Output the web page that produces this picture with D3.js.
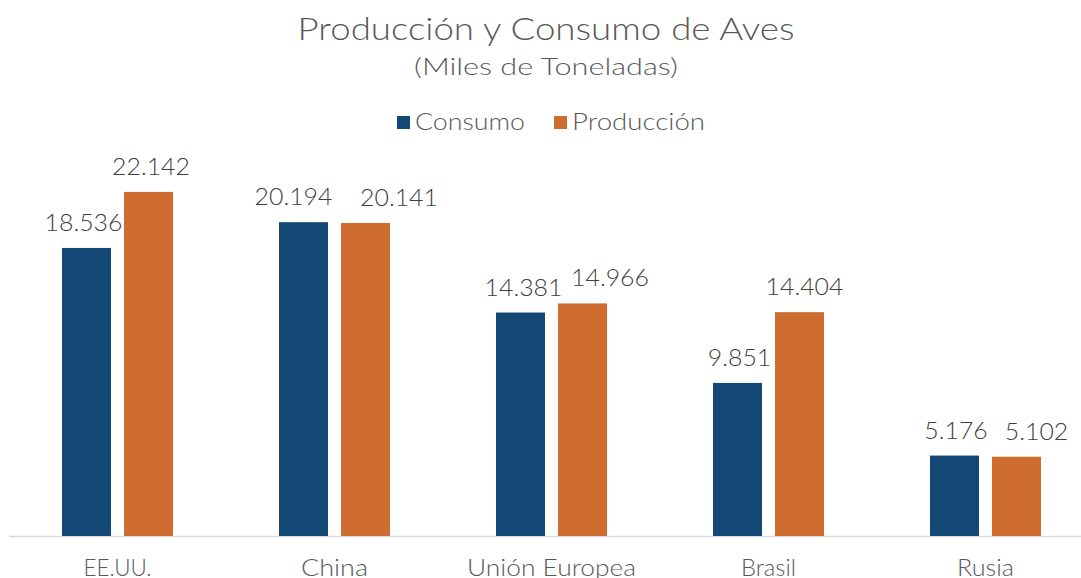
<!DOCTYPE html>
<html><head><meta charset="utf-8">
<script src="https://cdn.jsdelivr.net/npm/d3@7"></script>
<style>body{margin:0;background:#fff;}svg{display:block;font-family:"Lato","Open Sans",sans-serif;font-weight:300;}</style>
</head><body>
<svg id="chart" width="1081" height="578"></svg>
<script>
const categories = ["EE.UU.", "China", "Unión Europea", "Brasil", "Rusia"];
const seriesNames = ["Consumo", "Producción"];
const consumo = [18536, 20194, 14381, 9851, 5176];
const produccion = [22142, 20141, 14966, 14404, 5102];
const valueLabels = [["18.536","20.194","14.381","9.851","5.176"],["22.142","20.141","14.966","14.404","5.102"]];
const colors = ["#134874", "#CE6D2F"];

// layout constants (label nudges as placed in the original)
const labelShift = [[-3, -10, 3, 2, 1.5], [2.5, 33.5, 27.5, 5, 20]];
const catWidths = [68, 67, 169, 55, 57];

const svg = d3.select("#chart");
const W = 1081, H = 578;
const x0 = d3.scaleBand().domain(categories).range([9, 1094]).paddingInner(0).paddingOuter(0);
const y = d3.scaleLinear().domain([0, 25000]).range([536, 536 - 25000 * 0.01554]);
const x1 = d3.scaleBand().domain(seriesNames).range([53, 164]).paddingInner(0.21);
const series = [consumo, produccion];

function stretch(sel, factor) {
  sel.each(function() {
    const w = this.getComputedTextLength();
    d3.select(this).attr("textLength", w * factor).attr("lengthAdjust", "spacingAndGlyphs");
  });
}

// axis line
svg.append("line").attr("x1", 9).attr("x2", W).attr("y1", 536.5).attr("y2", 536.5)
  .attr("stroke", "#d9d9d9").attr("stroke-width", 1.5);

const g = svg.append("g");
series.forEach((vals, si) => {
  g.selectAll(null).data(vals).enter().append("rect")
    .attr("x", (d, i) => x0(categories[i]) + x1(seriesNames[si]))
    .attr("width", x1.bandwidth())
    .attr("y", d => y(d))
    .attr("height", d => y(0) - y(d))
    .attr("fill", colors[si]);
  const t = g.selectAll(null).data(vals).enter().append("text")
    .attr("x", (d, i) => x0(categories[i]) + x1(seriesNames[si]) + x1.bandwidth() / 2 + labelShift[si][i])
    .attr("y", d => y(d) - 17)
    .attr("text-anchor", "middle")
    .attr("font-size", 23)
    .attr("fill", "#404040")
    .text((d, i) => valueLabels[si][i]);
  stretch(t, 1.08);
});

// category labels
svg.append("g").selectAll("text").data(categories).enter().append("text")
  .attr("x", d => x0(d) + x0.bandwidth() / 2)
  .attr("y", 576)
  .attr("text-anchor", "middle")
  .attr("font-size", 23)
  .attr("fill", "#595959")
  .attr("textLength", (d, i) => catWidths[i])
  .attr("lengthAdjust", "spacingAndGlyphs")
  .text(d => d);

// title
svg.append("text").attr("x", 546).attr("y", 40).attr("text-anchor", "middle")
  .attr("font-size", 31).attr("fill", "#595959")
  .attr("textLength", 497).attr("lengthAdjust", "spacingAndGlyphs")
  .text("Producción y Consumo de Aves");
svg.append("text").attr("x", 546).attr("y", 75).attr("text-anchor", "middle")
  .attr("font-size", 23).attr("fill", "#595959")
  .attr("textLength", 264).attr("lengthAdjust", "spacingAndGlyphs")
  .text("(Miles de Toneladas)");

// legend
const leg = [{x: 397, w: 110}, {x: 554, w: 133}];
seriesNames.forEach((n, i) => {
  svg.append("rect").attr("x", leg[i].x).attr("y", 116).attr("width", 13).attr("height", 13).attr("fill", colors[i]);
  svg.append("text").attr("x", leg[i].x + 18).attr("y", 130).attr("font-size", 23)
    .attr("fill", "#595959")
    .attr("textLength", leg[i].w).attr("lengthAdjust", "spacingAndGlyphs")
    .text(n);
});
</script>
</body></html>
